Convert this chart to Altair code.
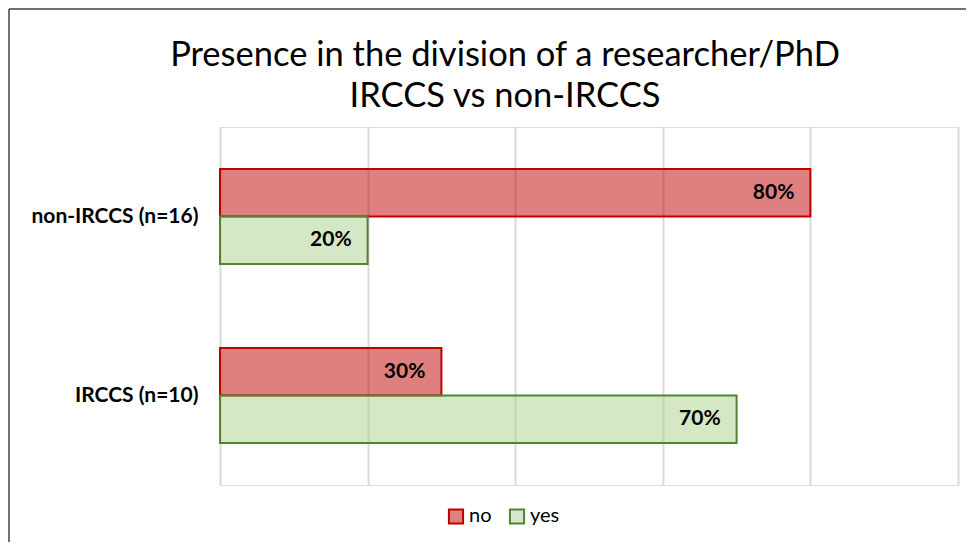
import altair as alt
import pandas as pd

categories = ["non-IRCCS (n=16)", "IRCCS (n=10)"]
series = ["no", "yes"]
no_values = [80, 30]
yes_values = [20, 70]
ticks = [0, 20, 40, 60, 80, 100]
title_lines = ["Presence in the division of a researcher/PhD", "IRCCS vs non-IRCCS"]

fill_colors = ["#C00000", "#A9D18E"]
legend_fill_colors = ["#E08080", "#D4E8C7"]
stroke_colors = ["#C00000", "#548235"]

rows = []
for c, n, y in zip(categories, no_values, yes_values):
    rows.append({"category": c, "series": "no", "value": n})
    rows.append({"category": c, "series": "yes", "value": y})
df = pd.DataFrame(rows)

FONT = "Lato"

y_enc = alt.Y(
    "category:N",
    sort=categories,
    scale=alt.Scale(paddingInner=0.47, paddingOuter=0.235),
    axis=alt.Axis(
        title=None, ticks=False, domain=False, labelFontWeight="bold",
        labelFontSize=21, labelPadding=22, minExtent=212, maxExtent=212,
        labelFont=FONT, labelColor="black",
    ),
)
x_enc = alt.X(
    "value:Q",
    scale=alt.Scale(domain=[0, 100]),
    axis=alt.Axis(
        values=ticks, labels=False, ticks=False, domain=False, grid=True,
        gridColor="#D9D9D9", gridWidth=2, title=None,
    ),
)
yoff = alt.YOffset("series:N", sort=series, scale=alt.Scale(paddingInner=0, paddingOuter=0))

legend_params = dict(title=None, orient="none", legendX=226, legendY=379,
                     direction="horizontal", symbolType="square",
                     symbolSize=200, symbolStrokeWidth=2,
                     labelFont=FONT, labelFontSize=20, labelColor="black",
                     columnPadding=13, labelOffset=3)

bars = alt.Chart(df).mark_bar(strokeWidth=2, fillOpacity=0.5).encode(
    x=x_enc,
    y=y_enc,
    yOffset=yoff,
    fill=alt.Fill("series:N", scale=alt.Scale(domain=series, range=fill_colors), legend=None),
    stroke=alt.Stroke("series:N", scale=alt.Scale(domain=series, range=stroke_colors), legend=None),
)

legend_layer = alt.Chart(df).transform_filter("false").mark_bar(strokeWidth=2).encode(
    fill=alt.Fill("series:N", scale=alt.Scale(domain=series, range=legend_fill_colors),
                  legend=alt.Legend(**legend_params)),
    stroke=alt.Stroke("series:N", scale=alt.Scale(domain=series, range=stroke_colors),
                      legend=alt.Legend(**legend_params)),
)

labels = alt.Chart(df).transform_calculate(
    label="datum.value + '%'"
).mark_text(align="right", baseline="middle", dx=-16, fontWeight="bold",
            fontSize=21, font=FONT, color="black").encode(
    x="value:Q",
    y=alt.Y("category:N", sort=categories),
    yOffset=yoff,
    text="label:N",
)

frame_data = alt.Data(values=[{}])
left_line = alt.Chart(frame_data).mark_rule(color="#404040", strokeWidth=1.5).encode(
    x=alt.value(-211), y=alt.value(-118), y2=alt.value(415)
)
top_line = alt.Chart(frame_data).mark_rule(color="#404040", strokeWidth=1.5).encode(
    x=alt.value(-211), x2=alt.value(746), y=alt.value(-118)
)

chart = alt.layer(bars, legend_layer, labels, left_line, top_line).resolve_scale(
    fill="independent", stroke="independent"
).properties(
    width=738,
    height=358,
    padding=0,
    title=alt.TitleParams(
        text=title_lines, fontSize=34.5, font=FONT, fontWeight="normal",
        anchor="middle", dx=-84, offset=-106, lineHeight=41, color="black",
    ),
).configure_view(stroke=None).configure(background="white")

chart.save("out.html", embed_options={"renderer": "svg", "actions": False})
